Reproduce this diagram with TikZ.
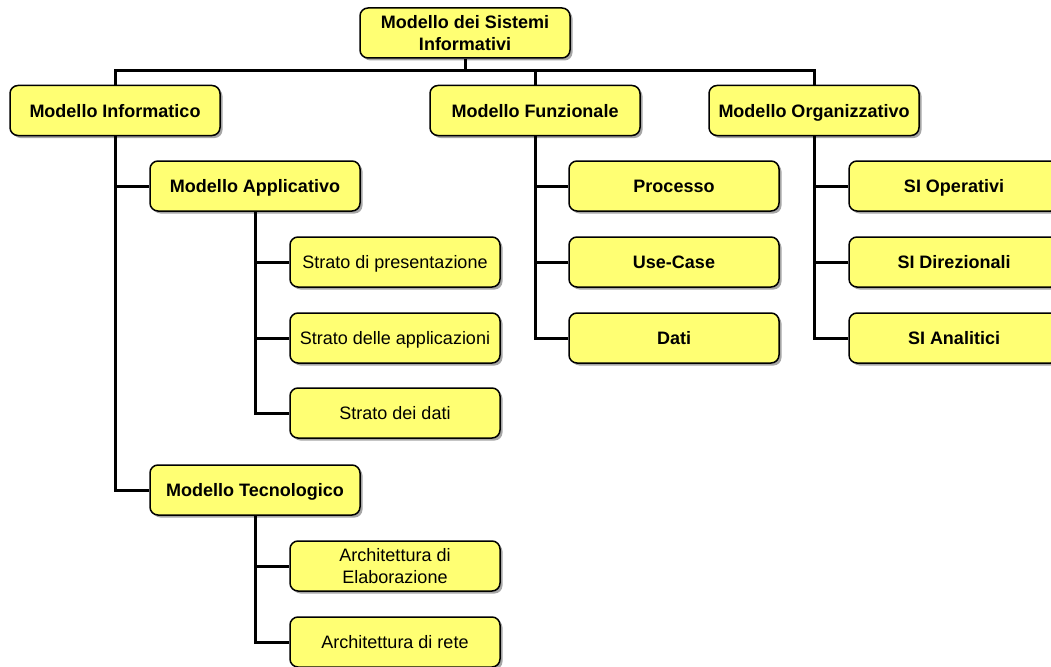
\documentclass[tikz,border=0pt]{standalone}
\usepackage{fontspec}
\setmainfont{Liberation Sans}
\usetikzlibrary{shadows,backgrounds}
\definecolor{boxyellow}{RGB}{255,255,115}
\tikzset{
  box/.style={draw=black, line width=1.5pt, fill=boxyellow, rounded corners=8pt,
    minimum width=210pt, minimum height=50pt, align=center, inner sep=2pt,
    text depth=0pt, font=\fontsize{18}{22}\selectfont,
    drop shadow={shadow xshift=2.5pt, shadow yshift=-2.5pt, fill=black, opacity=0.35}},
  bbox/.style={box, font=\fontsize{18}{22}\selectfont\bfseries},
  link/.style={draw=black, line width=3pt, line join=miter}
}
\begin{document}
\begin{tikzpicture}[x=1pt,y=-1pt]
\useasboundingbox (0,0) rectangle (1051,666);
\coordinate (bus) at (465,71);
\node[bbox] (root) at (465,33) {Modello dei Sistemi\\Informativi};
\node[bbox] (inf) at (115,110.5) {Modello Informatico};
\node[bbox] (fun) at (535,110.5) {Modello Funzionale};
\node[bbox] (org) at (814,110.5) {Modello Organizzativo};
\node[bbox] (app) at (255,186) {Modello Applicativo};
\node[box] (s1) at (395,262) {Strato di presentazione};
\node[box] (s2) at (395,338) {Strato delle applicazioni};
\node[box] (s3) at (395,413) {Strato dei dati};
\node[bbox] (tec) at (255,490) {Modello Tecnologico};
\node[box] (a1) at (395,566) {Architettura di\\Elaborazione};
\node[box] (a2) at (395,642) {Architettura di rete};
\node[bbox] (p1) at (674,186) {Processo};
\node[bbox] (p2) at (674,262) {Use-Case};
\node[bbox] (p3) at (674,338) {Dati};
\node[bbox] (o1) at (954,186) {SI Operativi};
\node[bbox] (o2) at (954,262) {SI Direzionali};
\node[bbox] (o3) at (954,338) {SI Analitici};
\begin{scope}[on background layer]
  \draw[link] (root.south) -- (bus);
  \draw[link] (inf.north) |- (bus) -| (org.north);
  \draw[link] (fun.north) -- (fun.north|-bus);
  \draw[link] (inf.south) |- (app.west);
  \draw[link] (inf.south) |- (tec.west);
  \draw[link] (app.south) |- (s1.west);
  \draw[link] (app.south) |- (s2.west);
  \draw[link] (app.south) |- (s3.west);
  \draw[link] (tec.south) |- (a1.west);
  \draw[link] (tec.south) |- (a2.west);
  \draw[link] (fun.south) |- (p1.west);
  \draw[link] (fun.south) |- (p2.west);
  \draw[link] (fun.south) |- (p3.west);
  \draw[link] (org.south) |- (o1.west);
  \draw[link] (org.south) |- (o2.west);
  \draw[link] (org.south) |- (o3.west);
\end{scope}
\end{tikzpicture}
\end{document}
